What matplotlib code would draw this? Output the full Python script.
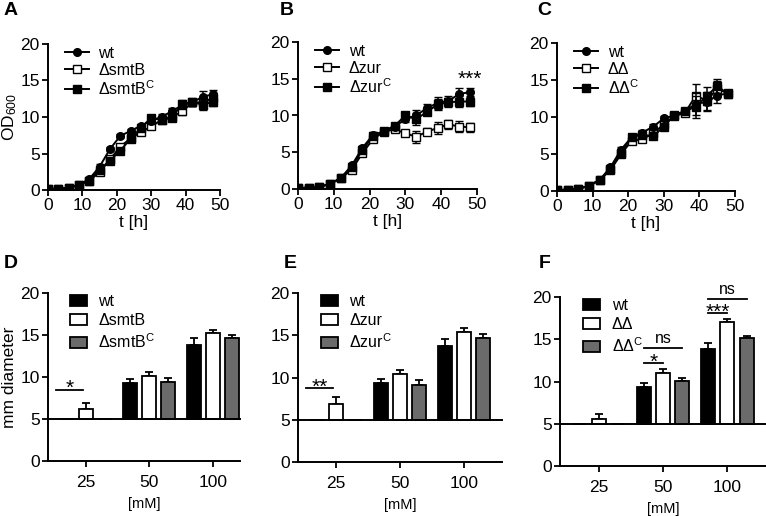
import numpy as np
import matplotlib.pyplot as plt
from matplotlib.lines import Line2D
from matplotlib.patches import Patch

plt.rcParams['font.family'] = ['Liberation Sans', 'DejaVu Sans']
plt.rcParams['axes.linewidth'] = 1.4

# growth curves, sampled every 3 h
t = [0, 3, 6, 9, 12, 15, 18, 21, 24, 27, 30, 33, 36, 39, 42, 45, 48]

a_wt = [0.1, 0.2, 0.3, 0.7, 1.5, 3.2, 5.6, 7.4, 8.1, 8.8, 9.5, 10.0, 10.8, 11.6, 12.0, 12.8, 13.1]
a_mut = [0.1, 0.2, 0.3, 0.7, 1.3, 2.4, 4.2, 5.9, 7.1, 7.9, 8.7, 9.6, 10.0, 10.8, 12.0, 12.0, 12.6]
a_comp = [0.1, 0.2, 0.3, 0.7, 1.3, 2.8, 4.0, 5.4, 7.0, 8.5, 9.9, 9.6, 9.9, 11.8, 12.0, 11.7, 12.1]
a_err = [0.05, 0.05, 0.05, 0.1, 0.2, 0.3, 0.3, 0.3, 0.3, 0.3, 0.4, 0.4, 0.5, 0.5, 0.5, 0.8, 0.6]

b_wt = [0.1, 0.2, 0.3, 0.7, 1.5, 3.2, 5.6, 7.4, 7.8, 8.5, 9.5, 10.0, 11.0, 11.7, 12.0, 12.9, 13.2]
b_mut = [0.1, 0.2, 0.3, 0.7, 1.5, 2.6, 4.9, 6.8, 7.8, 8.1, 7.6, 7.1, 7.8, 8.3, 8.8, 8.5, 8.4]
b_comp = [0.1, 0.2, 0.3, 0.7, 1.5, 3.0, 5.3, 7.2, 7.9, 8.6, 10.0, 9.5, 10.5, 11.5, 11.8, 11.9, 11.9]
b_err = [0.05, 0.05, 0.05, 0.1, 0.2, 0.3, 0.3, 0.3, 0.3, 0.3, 0.4, 0.8, 0.5, 0.8, 0.6, 0.8, 0.6]

c_wt = [0.1, 0.2, 0.3, 0.7, 1.5, 3.2, 5.6, 7.3, 7.9, 8.7, 9.8, 10.2, 10.8, 11.8, 12.0, 12.9, 13.2]
c_mut = [0.1, 0.2, 0.3, 0.7, 1.5, 2.8, 5.0, 6.8, 7.0, 7.8, 9.0, 10.1, 10.6, 12.9, 12.2, 13.8, 13.2]
c_comp = [0.1, 0.2, 0.3, 0.7, 1.5, 3.0, 5.2, 7.3, 7.6, 7.4, 8.7, 10.3, 10.8, 11.4, 12.8, 14.2, 13.1]
c_err = [0.05, 0.05, 0.05, 0.1, 0.2, 0.3, 0.3, 0.3, 0.3, 0.3, 0.4, 0.3, 0.3, 1.5, 1.2, 1.0, 0.5]

# zone of inhibition, bars start at 5 mm (disc size)
conc = ['25', '50', '100']
d_vals = [[5, 9.3, 13.8], [6.2, 10.1, 15.2], [5, 9.4, 14.6]]
d_errs = [[0, 0.5, 0.8], [0.7, 0.5, 0.4], [0, 0.5, 0.4]]
e_vals = [[5, 9.3, 13.7], [6.9, 10.4, 15.4], [5, 9.1, 14.7]]
e_errs = [[0, 0.5, 0.8], [0.8, 0.5, 0.5], [0, 0.6, 0.4]]
f_vals = [[5, 9.3, 13.8], [5.6, 11.0, 17.0], [5, 10.1, 15.1]]
f_errs = [[0, 0.5, 0.8], [0.5, 0.5, 0.4], [0, 0.3, 0.3]]

W, H = 766, 516
fig = plt.figure(figsize=(W / 100, H / 100), dpi=100)


def box(x0, y0, x1, y1):
    return [x0 / W, 1 - y1 / H, (x1 - x0) / W, (y1 - y0) / H]


fs = 12.5
lfs = 11.5
sfs = 15


def growth(ax, wt, mut, comp, err, names, star=None):
    ax.errorbar(t, wt, yerr=err, color='black', marker='o', ms=5.5, lw=1.4,
                capsize=3, elinewidth=1.1, zorder=3)
    ax.errorbar(t, mut, yerr=err, color='black', marker='s', ms=6, mfc='white',
                lw=1.4, capsize=3, elinewidth=1.1, zorder=2)
    ax.errorbar(t, comp, yerr=err, color='black', marker='s', ms=6, lw=1.4,
                capsize=3, elinewidth=1.1, zorder=4)
    ax.set_xlim(0, 50)
    ax.set_ylim(0, 20)
    ax.set_xticks([0, 10, 20, 30, 40, 50])
    ax.set_yticks([0, 5, 10, 15, 20])
    ax.spines['top'].set_visible(False)
    ax.spines['right'].set_visible(False)
    ax.tick_params(labelsize=fs, width=1.3, length=4, pad=2)
    ax.set_xlabel('t [h]', fontsize=fs, labelpad=1)
    handles = [Line2D([], [], color='black', marker='o', ms=5.5, lw=1.4),
               Line2D([], [], color='black', marker='s', ms=6, mfc='white', lw=1.4),
               Line2D([], [], color='black', marker='s', ms=6, lw=1.4)]
    ax.legend(handles, names, loc='upper left', frameon=False, fontsize=lfs,
              handlelength=1.5, handletextpad=0.6, borderaxespad=0.0,
              labelspacing=0.1, bbox_to_anchor=(0.06, 1.03))
    if star:
        ax.text(48, 13.6, star, ha='center', va='bottom', fontsize=sfs)


def bars(ax, vals, errs, names, xmax, sig=()):
    x = np.arange(len(conc))
    w = 0.22
    cols = ['black', 'white', '#6b6b6b']
    for i in range(3):
        h = np.array(vals[i]) - 5
        ax.bar(x + (i - 1) * 0.3, h, w, bottom=5, color=cols[i], edgecolor='black',
               lw=1.3, zorder=2)
        for j in range(3):
            if errs[i][j] > 0:
                ax.errorbar(x[j] + (i - 1) * 0.3, vals[i][j], yerr=[[0], [errs[i][j]]],
                            color='black', capsize=3, elinewidth=1.3, capthick=1.3, zorder=1)
    ax.plot([-0.6, xmax], [5, 5], color='black', lw=1.4, clip_on=False, zorder=3)
    ax.set_xlim(-0.6, xmax)
    ax.set_ylim(0, 20)
    ax.set_xticks(x)
    ax.set_xticklabels(conc)
    ax.set_yticks([0, 5, 10, 15, 20])
    ax.spines['top'].set_visible(False)
    ax.spines['right'].set_visible(False)
    ax.tick_params(labelsize=fs, width=1.3, length=4, pad=2)
    ax.tick_params(axis='x', pad=6)
    ax.set_xlabel('[mM]', fontsize=lfs - 1, labelpad=5)
    handles = [Patch(facecolor=c, edgecolor='black', lw=1.3) for c in cols]
    ax.legend(handles, names, loc='upper left', frameon=False, fontsize=lfs,
              handlelength=1.1, handleheight=0.7, handletextpad=0.7,
              borderaxespad=0.0, labelspacing=0.25, bbox_to_anchor=(0.08, 1.03))
    for x0, x1, y, txt in sig:
        ax.plot([x0, x1], [y, y], color='black', lw=1.3, clip_on=False)
        if txt == 'ns':
            ax.text((x0 + x1) / 2, y + 0.2, txt, ha='center', va='bottom', fontsize=lfs)
        else:
            ax.text((x0 + x1) / 2, y - 1.0, txt, ha='center', va='bottom', fontsize=sfs)


axA = fig.add_axes(box(48, 44, 220, 190))
growth(axA, a_wt, a_mut, a_comp, a_err, ['wt', 'ΔsmtB', 'ΔsmtB$^\\mathregular{C}$'])
axA.set_ylabel('$\\mathregular{OD_{600}}$', fontsize=fs, labelpad=1)

axB = fig.add_axes(box(298, 42, 477, 189))
growth(axB, b_wt, b_mut, b_comp, b_err, ['wt', 'Δzur', 'Δzur$^\\mathregular{C}$'], star='***')

axC = fig.add_axes(box(557, 43, 735, 191))
growth(axC, c_wt, c_mut, c_comp, c_err, ['wt', 'ΔΔ', 'ΔΔ$^\\mathregular{C}$'])

axD = fig.add_axes(box(48, 293, 240, 461))
bars(axD, d_vals, d_errs, ['wt', 'ΔsmtB', 'ΔsmtB$^\\mathregular{C}$'], 2.43,
     sig=[(-0.48, -0.05, 8.5, '*')])
axD.set_ylabel('mm diameter', fontsize=fs, labelpad=2)

axE = fig.add_axes(box(298, 293, 502, 462))
bars(axE, e_vals, e_errs, ['wt', 'Δzur', 'Δzur$^\\mathregular{C}$'], 2.6,
     sig=[(-0.48, -0.05, 8.7, '**')])

axF = fig.add_axes(box(560, 297, 766, 466))
bars(axF, f_vals, f_errs, ['wt', 'ΔΔ', 'ΔΔ$^\\mathregular{C}$'], 2.6,
     sig=[(0.7, 1.0, 12.2, '*'), (0.7, 1.3, 14.0, 'ns'),
          (1.7, 2.0, 18.1, '***'), (1.7, 2.3, 19.8, 'ns')])

for lab, x, y in [('A', 4, 2), ('B', 280, 2), ('C', 537, 2),
                  ('D', 4, 255), ('E', 284, 255), ('F', 539, 255)]:
    fig.text(x / W, 1 - y / H, lab, fontsize=14, fontweight='bold', va='top')

fig.savefig('out.png', dpi=100)
